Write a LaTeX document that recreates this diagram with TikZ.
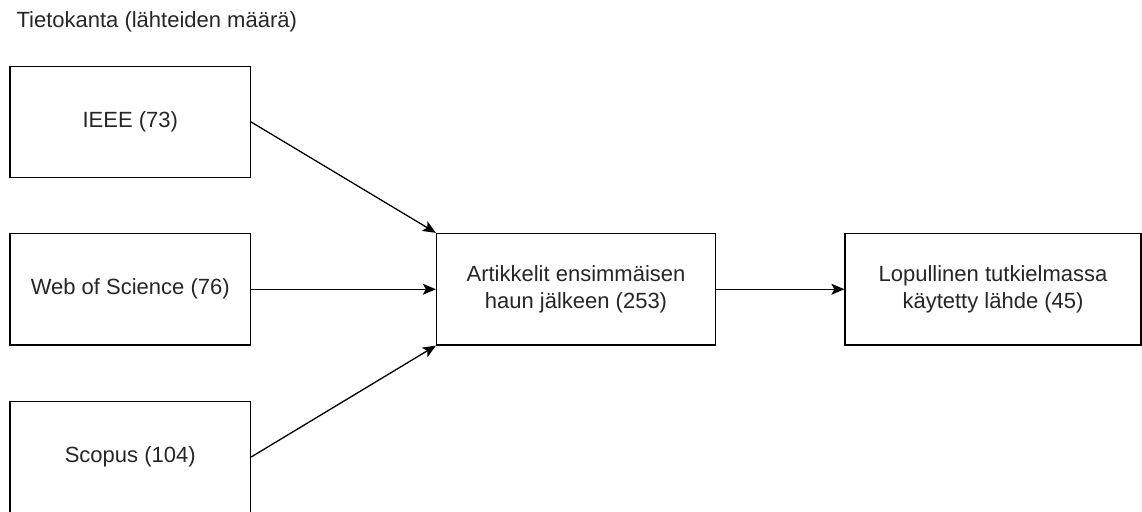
\documentclass[tikz,border=0pt]{standalone}
\usepackage{fontspec}
\setmainfont{Liberation Sans}
\usetikzlibrary{arrows.meta}
\begin{document}
\begin{tikzpicture}[x=1pt,y=-1pt,
  txt/.style={font=\fontsize{22}{26.5}\selectfont, text=black!85},
  box/.style={txt, draw=black, line width=1.3pt, fill=white, rectangle, inner sep=0pt, align=center},
  conn/.style={line width=1.3pt, -{Stealth[length=13pt,width=11pt,inset=3pt]}}
]
\useasboundingbox (0,0) rectangle (1142,511);
\node[txt, anchor=base west] (title) at (13,28) {Tietokanta (lähteiden määrä)};
\node[box, minimum width=240.5pt, minimum height=111pt] (ieee) at (130.25,122) {IEEE (73)};
\node[box, minimum width=240.5pt, minimum height=111.5pt] (wos) at (130.25,289.25) {Web of Science (76)};
\node[box, minimum width=240.5pt, minimum height=111pt] (scopus) at (130.25,457) {Scopus (104)};
\node[box, minimum width=279pt, minimum height=111.5pt] (mid) at (576,289.25) {Artikkelit ensimmäisen\\haun jälkeen (253)};
\node[box, minimum width=296pt, minimum height=111.5pt] (final) at (993,289.25) {Lopullinen tutkielmassa\\käytetty lähde (45)};
\draw[conn] (ieee.east) -- (mid.north west);
\draw[conn] (wos.east) -- (mid.west);
\draw[conn] (scopus.east) -- (mid.south west);
\draw[conn] (mid.east) -- (final.west);
\end{tikzpicture}
\end{document}
